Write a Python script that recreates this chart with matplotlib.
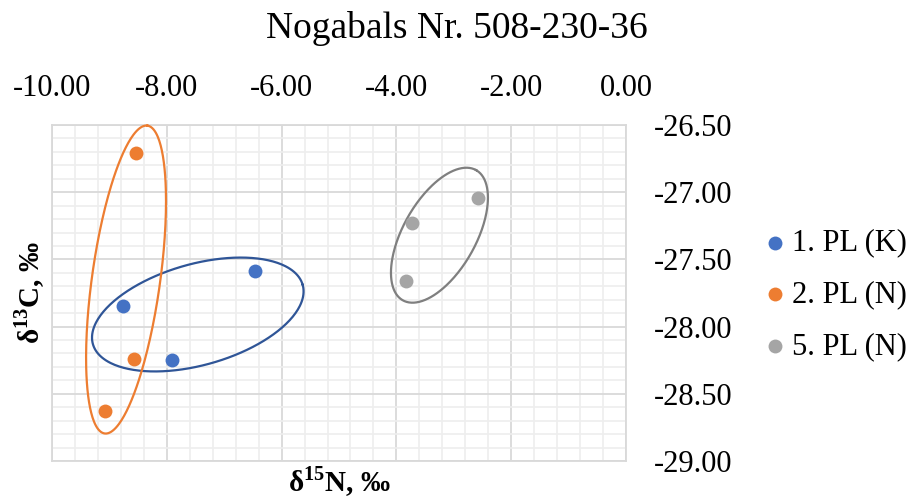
import numpy as np
import matplotlib
matplotlib.use("Agg")
import matplotlib.pyplot as plt
from matplotlib.ticker import MultipleLocator, FormatStrFormatter

plt.rcParams['font.family'] = ['Liberation Serif', 'DejaVu Serif']
plt.rcParams['mathtext.fontset'] = 'custom'
plt.rcParams['mathtext.rm'] = 'Liberation Serif'
plt.rcParams['mathtext.bf'] = 'Liberation Serif:bold'

# data (d15N, d13C)
series_names = ["1. PL (K)", "2. PL (N)", "5. PL (N)"]
pl1_n = [-8.77, -7.91, -6.47]
pl1_c = [-27.85, -28.25, -27.59]
pl2_n = [-8.54, -8.57, -9.08]
pl2_c = [-26.71, -28.24, -28.63]
pl5_n = [-3.72, -3.84, -2.58]
pl5_c = [-27.23, -27.66, -27.04]
colors = ["#4472C4", "#ED7D31", "#A5A5A5"]

# hand drawn group outlines: centre (data), semi axes in px and tilt in degrees
ring_centres = [(-7.46, -27.91), (-8.71, -27.65), (-3.25, -27.32)]
ring_shapes = [(109, 50.5, 15.8), (155.4, 34.1, 82.1), (74.7, 36.4, 60.6)]
ring_colors = ["#2F5597", "#ED7D31", "#7F7F7F"]

W, H = 914, 498
fig = plt.figure(figsize=(W/100, H/100), dpi=100)
ax = fig.add_axes([52/W, 1-461/H, (626-52)/W, (461-125)/H])
ax.set_xlim(-10, 0)
ax.set_ylim(-29, -26.5)

ax.xaxis.set_major_locator(MultipleLocator(2))
ax.xaxis.set_minor_locator(MultipleLocator(0.4))
ax.yaxis.set_major_locator(MultipleLocator(0.5))
ax.yaxis.set_minor_locator(MultipleLocator(0.1))
ax.xaxis.set_major_formatter(FormatStrFormatter('%.2f'))
ax.yaxis.set_major_formatter(FormatStrFormatter('%.2f'))
ax.xaxis.tick_top()
ax.yaxis.tick_right()
ax.tick_params(which='both', length=0)
ax.tick_params(axis='x', labelsize=22, pad=16)
ax.tick_params(axis='y', labelsize=22, pad=20)
ax.grid(which='minor', color='#EEEEEE', lw=1.2, zorder=0)
ax.grid(which='major', color='#D9D9D9', lw=1.3, zorder=0)
ax.set_axisbelow(True)
for s in ax.spines.values():
    s.set_color('#D9D9D9')
    s.set_linewidth(1.3)

xs = [pl1_n, pl2_n, pl5_n]
ys = [pl1_c, pl2_c, pl5_c]
for x, y, c, name in zip(xs, ys, colors, series_names):
    ax.scatter(x, y, s=100, color=c, label=name, zorder=4, linewidths=0)

# outlines, drawn in pixel space so the tilt looks right
sx = (626-52) / 10
sy = (461-125) / 2.5
t = np.linspace(0, 2*np.pi, 300)
for (cx, cy), (a, b, ang), c in zip(ring_centres, ring_shapes, ring_colors):
    th = np.radians(ang)
    dx = a*np.cos(t)*np.cos(th) - b*np.sin(t)*np.sin(th)
    dy = a*np.cos(t)*np.sin(th) + b*np.sin(t)*np.cos(th)
    ax.plot(cx + dx/sx, cy + dy/sy, color=c, lw=1.6, zorder=3, clip_on=False)

fig.text(0.5, 1-38/H, "Nogabals Nr. 508-230-36", ha='center', va='baseline', fontsize=27)
fig.text(339/W, 1-491.5/H, r"δ$^{\mathbf{15}}$N, ‰", ha='center', va='baseline',
         fontsize=21, fontweight='bold')
fig.text(30/W, 1-293/H, r"δ$^{\mathbf{13}}$C, ‰", ha='center', va='center',
         rotation=90, fontsize=21, fontweight='bold')

fig.legend(loc='center left', bbox_to_anchor=(766/W, 1-295/H), frameon=False,
           fontsize=22, handlelength=0.6, handletextpad=0.25, borderpad=0,
           borderaxespad=0, labelspacing=0.75, scatterpoints=1)

fig.savefig("out.png", dpi=100)
